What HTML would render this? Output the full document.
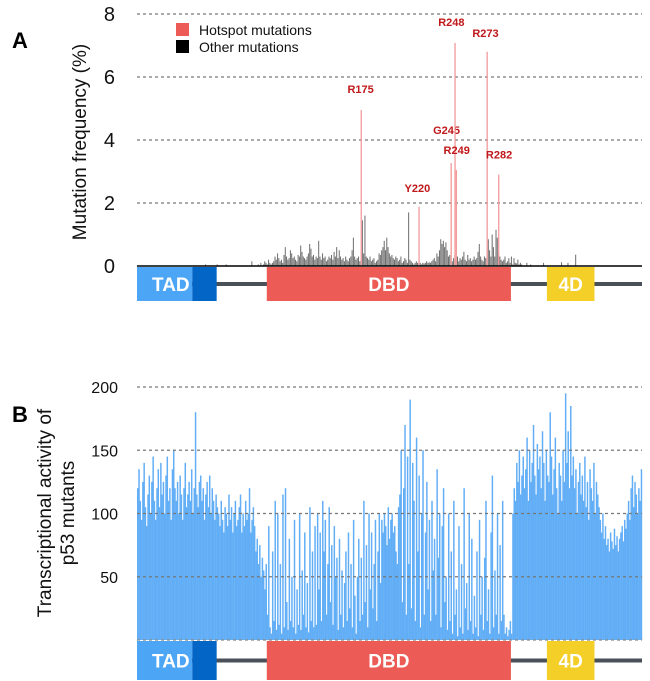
<!DOCTYPE html>
<html><head><meta charset="utf-8"><style>
html,body{margin:0;padding:0;background:#fff;}
svg{display:block;font-family:"Liberation Sans",Arial,sans-serif;}
</style></head><body>
<svg id="chart" width="650" height="681" viewBox="0 0 650 681" xmlns="http://www.w3.org/2000/svg">
<g id="gA"></g>
<g id="gB"></g>
</svg>
<script>
// ---------- DATA ----------
const aTicks = [0, 2, 4, 6, 8];
const hotspotLabels = ["R175","Y220","G245","R248","R249","R273","R282"];
const hotspotResidues = [175, 220, 245, 248, 249, 273, 282];
const hotspotValues = [4.95, 1.88, 3.27, 7.08, 3.05, 6.8, 2.9];
const otherStart = 95;
const otherValues = [
0.05,0,0.1,0,0.05,0.15,0.1,0.05,0.2,0.1, 0.05,0.1,0.15,0.3,0.2,0.4,0.25,0.15,0.2,0.1, 0.35,0.6,0.3,0.2,0.25,0.5,0.4,0.25,0.3,0.2, 0.15,0.35,0.3,0.65,0.45,0.3,
0.25,0.2,0.3,0.4,0.7,0.55,0.3,0.35,0.2,0.3, 0.25,0.8,0.3,0.2,0.4,0.25,0.3,0.15,0.2,0.3, 0.25,0.35,0.2,0.45,0.3,0.6,0.25,0.5,0.3,0.2, 0.25,0.15,0.3,0.2,0.15,0.25,0.3,0.5,0.9,0.3, 0.2,0.25,0.3,0.15,0.2,
1.45,0.4,1.6,0.3,0.25,0.2,0.3,0.15,0.2,0.25, 0.1,0.15,0.2,0.4,0.35,0.5,0.6,0.8,0.5,0.9, 0.6,0.4,0.3,0.35,0.25,0.2,0.3,0.25,0.15,0.2, 0.3,0.1,0.15,0.25,0.2,0.1,1.7,0.2,0.15,0.1, 0.05,0.1,0.15,0.1,0.1,
0.1,0.05,0.1,0.08,0.1,0.15,0.1,0.12,0.1,0.15, 0.2,0.25,0.15,0.4,0.3,0.5,0.85,0.7,0.8,0.6, 0.75,0.5,0.3,0.35,0.2,0.15,0.25,0.35,0.2,0.3, 0.15,0.25,0.2,0.3,0.45,0.2,0.15,0.35,0.2,0.25, 0.15,0.2,0.3,0.2,0.25,0.45,0.7,0.3,0.2,0.15, 0.3,0.25,0.4,0.85,0.5,
0.3,1.0,0.6,0.3,1.15,0.9,0.4,0.3,0.2,0.15, 0.2,0.3,0.1,0.15,0.25,0.1,0.3,0.05,0.25,0.1, 0.08,0.2,0.05,0.1,0.05,0,0,0,0.1,0,0,0.05,0,0,0];
const sparseResidues = [54, 63, 70, 90, 317, 331, 336, 342];
const sparseValues = [0.05, 0.05, 0.05, 0.15, 0.1, 0.12, 0.1, 0.36];
const bTicks = [50, 100, 150, 200];
const activity = [
120,135,110,95,125,140,105,90,115,130, 100,125,145,110,95,120,135,105,140,115, 125,100,130,145,110,120,95,135,150,120,
110,125,100,130,115,95,120,140,105,115, 125,110,135,100,120,180,115,105,125,130, 110,120,95,115,125,105,130,100,120,110, 95,115,105,
100,90,110,95,85,105,100,90,115,95, 105,85,100,110,90,95,105,115,85,100, 90,110,95,100,120,85,95,105,90,70, 80,60,75,50,65,55,40,
60,20,90,10,5,70,15,110,8,100, 12,60,5,115,10,120,30,8,80,15, 50,10,95,5,40,12,100,8,55,20, 85,10,45,6,105,15,70,10,90,12,
100,40,85,15,110,70,95,20,60,105, 30,75,12,90,50,65,8,80,20,55, 10,45,70,15,85,25,60,10,95,35, 5,50,80,15,65,20,110,30,75,10, 100,40,85,25,60,95,15,70,100,45,
95,85,100,90,75,105,80,95,100,85, 90,70,60,105,115,
150,30,120,170,20,145,60,190,25,140, 110,15,160,70,130,10,100,150,20,85, 125,40,95,15,110,55,80,20,135,65, 100,10,90,120,30,
50,8,100,15,70,5,110,20,40,3, 90,10,60,5,120,25,45,8,100,15, 80,5,35,10,70,3,95,20,50,8, 65,110,15,40,5,85,130,10,55,20, 100,5,75,15,110,
20,5,10,3,8,15,5,100,120,110, 140,125,150,115,130,
145,120,135,160,110,150,125,140,170,130, 115,155,135,145,120,165,140,110,150,130, 125,180,145,115,135,160,120,100,140,130, 110,150,125,195,140,165,120,185,130,145,
120,135,100,125,140,115,130,110,145,105, 125,95,135,120,110,140,100,125,115,105, 95,85,100,80,90,
75,80,70,85,78,72,88,75,82,70, 80,85,90,78,95,88,100,110,95,120, 130,105,125,115,100,120,110,135];
const domainNames = ["TAD","","DBD","4D"];
const domainStart = [1, 44, 102, 320];
const domainEnd = [44, 63, 292, 357];

// ---------- HELPERS ----------
const NS = "http://www.w3.org/2000/svg";
function mk(parent, tag, attrs, text){
  const e = document.createElementNS(NS, tag);
  for (const k in attrs) e.setAttribute(k, attrs[k]);
  if (text !== undefined) e.textContent = text;
  parent.appendChild(e);
  return e;
}
const X0 = 137, X1 = 642, RES = 393;
const xRes = r => X0 + (r - 1) * (X1 - X0) / RES;
const bw = (X1 - X0) / RES;
const yA = v => 266 - v * 31.5;
const yB = v => 640 - v * 1.265;

function drawDomains(g, top, h){
  const line = mk(g, "rect", {x: X0, y: top + h/2 - 2, width: X1 - X0, height: 4, fill: "#4a5058"});
  
  
  const fills = ["#4da6f5", "#0366c6", "#ec5b55", "#f4cf27"];
  domainNames.forEach((n, i) => {
    const r = mk(g, "rect", {x: xRes(domainStart[i]), y: top, width: xRes(domainEnd[i]) - xRes(domainStart[i]), height: h, fill: fills[i]});
    
    
  });
  domainNames.forEach((n, i) => {
    if (!n) return;
    let cx = (xRes(domainStart[i]) + xRes(domainEnd[i])) / 2;
    if (n === "TAD") cx = (xRes(1) + xRes(63)) / 2 - 6;
    const t = mk(g, "text", {x: cx, y: top + h/2 + 7, "text-anchor": "middle", "font-size": 19, "font-weight": "bold", fill: "#fff"}, n);
    
    
  });
}

// ---------- PANEL A ----------
const gA = document.getElementById("gA");
const la = mk(gA, "text", {x: 12, y: 48, "font-size": 22, "font-weight": "bold", fill: "#000"}, "A");
 
aTicks.forEach(t => {
  if (t > 0) {
    const gl = mk(gA, "line", {x1: X0, x2: X1, y1: yA(t), y2: yA(t), stroke: "#777", "stroke-width": 1.2, "stroke-dasharray": "3,3"});
     
  }
  const tl = mk(gA, "text", {x: 115, y: yA(t) + 7, "text-anchor": "end", "font-size": 20, fill: "#111"}, t);
   
});
const ya = mk(gA, "text", {x: 0, y: 0, transform: "translate(86,142) rotate(-90)", "text-anchor": "middle", "font-size": 19, fill: "#111"}, "Mutation frequency (%)");
 
otherValues.forEach((v, i) => {
  if (v <= 0) return;
  const b = mk(gA, "rect", {x: xRes(otherStart + i), y: yA(v), width: 1, height: 266 - yA(v), fill: "#6d6d6d"});
   
});
sparseResidues.forEach((r, i) => {
  const b = mk(gA, "rect", {x: xRes(r), y: yA(sparseValues[i]), width: 1, height: 266 - yA(sparseValues[i]), fill: "#6d6d6d"});
   
});
const labelOffsets = [[0,-17],[-1,-15],[-4,-29],[-3,-17],[1,-16],[-1,-15],[1,-16]];
hotspotResidues.forEach((r, i) => {
  const b = mk(gA, "rect", {x: xRes(r), y: yA(hotspotValues[i]), width: 1.3, height: 266 - yA(hotspotValues[i]), fill: "#f39a9a"});
   
  const t = mk(gA, "text", {x: xRes(r) + labelOffsets[i][0], y: yA(hotspotValues[i]) + labelOffsets[i][1], "text-anchor": "middle", "font-size": 11, "font-weight": "bold", fill: "#c0171a"}, hotspotLabels[i]);
   
});
const baseA = mk(gA, "line", {x1: X0, x2: X1, y1: 266, y2: 266, stroke: "#000", "stroke-width": 1.5});
 
const leg = mk(gA, "g", {});
 
const l1 = mk(leg, "rect", {x: 176, y: 23, width: 13, height: 13, fill: "#ec5b55"});
 
const l2 = mk(leg, "text", {x: 199, y: 35, "font-size": 14, fill: "#111"}, "Hotspot mutations");
 
const l3 = mk(leg, "rect", {x: 176, y: 40, width: 13, height: 13, fill: "#000"});
 
const l4 = mk(leg, "text", {x: 199, y: 52, "font-size": 14, fill: "#111"}, "Other mutations");
 
drawDomains(gA, 267, 34);

// ---------- PANEL B ----------
const gB = document.getElementById("gB");
const lb = mk(gB, "text", {x: 12, y: 422, "font-size": 22, "font-weight": "bold", fill: "#000"}, "B");
 
activity.forEach((v, i) => {
  const b = mk(gB, "rect", {x: xRes(i + 1), y: yB(v), width: bw + 0.2, height: 640 - yB(v), fill: "#62aef6"});
   
});
bTicks.forEach(t => {
  const gl = mk(gB, "line", {x1: X0, x2: X1, y1: yB(t), y2: yB(t), stroke: "#777", "stroke-width": 1.2, "stroke-dasharray": "3,3"});
   
  const tl = mk(gB, "text", {x: 118, y: yB(t) + 6, "text-anchor": "end", "font-size": 16, fill: "#111"}, t);
   
});
const bl = mk(gB, "line", {x1: X0, x2: X1, y1: 640, y2: 640, stroke: "#888", "stroke-width": 1.2, "stroke-dasharray": "3,3"});
 
const yb1 = mk(gB, "text", {x: 0, y: 0, transform: "translate(51,513) rotate(-90)", "text-anchor": "middle", "font-size": 19, fill: "#111"}, "Transcriptional activity of");
 
const yb2 = mk(gB, "text", {x: 0, y: 0, transform: "translate(74,513) rotate(-90)", "text-anchor": "middle", "font-size": 19, fill: "#111"}, "p53 mutants");
 
drawDomains(gB, 641, 39);
</script>
</body></html>
